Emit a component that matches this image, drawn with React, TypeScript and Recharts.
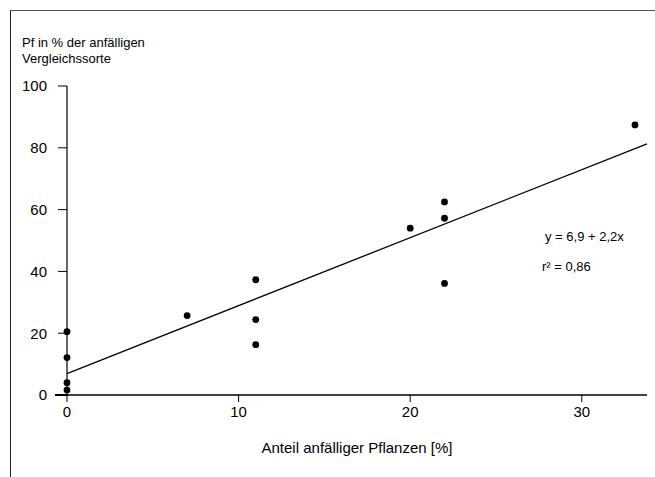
import { ScatterChart, Scatter, XAxis, YAxis } from "recharts";

const points = [
  { x: 0, y: 20.5 },
  { x: 0, y: 12.1 },
  { x: 0, y: 4.0 },
  { x: 0, y: 1.6 },
  { x: 7, y: 25.7 },
  { x: 11, y: 37.3 },
  { x: 11, y: 24.4 },
  { x: 11, y: 16.3 },
  { x: 20, y: 54 },
  { x: 22, y: 62.5 },
  { x: 22, y: 57.2 },
  { x: 22, y: 36.1 },
  { x: 33.1, y: 87.4 },
];

// Regressionsgerade, Endpunkte
const fitLine = [
  { x: 0, y: 6.9 },
  { x: 33.8, y: 81.3 },
];

const xTicks = [0, 10, 20, 30];
const yTicks = [0, 20, 40, 60, 80, 100];

const font = "'Liberation Sans', Arial, sans-serif";
const tickStyle = { fill: "#000", fontSize: 15, fontFamily: font };

const Dot = (props: any) => (
  <circle cx={props.cx} cy={props.cy} r={3.4} fill="#000" />
);

export default function App() {
  return (
    <div
      style={{
        position: "absolute",
        left: 0,
        top: 0,
        width: 655,
        height: 477,
        background: "#fff",
        fontFamily: font,
        overflow: "hidden",
      }}
    >
      <div
        style={{
          position: "absolute",
          left: 10,
          top: 10,
          width: 660,
          height: 480,
          borderLeft: "1.5px solid #222",
          borderTop: "1.5px solid #555",
        }}
      />
      <div
        style={{
          position: "absolute",
          left: 22,
          top: 35,
          fontSize: 13,
          lineHeight: "16px",
          color: "#000",
        }}
      >
        Pf in % der anfälligen
        <br />
        Vergleichssorte
      </div>
      <div
        style={{
          position: "absolute",
          left: 545,
          top: 229,
          fontSize: 13,
          lineHeight: "16px",
          color: "#000",
        }}
      >
        y = 6,9 + 2,2x
      </div>
      <div
        style={{
          position: "absolute",
          left: 542,
          top: 259,
          fontSize: 13,
          lineHeight: "16px",
          color: "#000",
        }}
      >
        r² = 0,86
      </div>
      <ScatterChart
        width={655}
        height={477}
        margin={{ top: 86, right: 8, left: 7, bottom: 22 }}
        style={{ position: "absolute", left: 0, top: 0 }}
      >
        <XAxis
          type="number"
          dataKey="x"
          domain={[0, 33.8]}
          ticks={xTicks}
          height={60}
          stroke="#000"
          tickSize={7}
          tickMargin={4}
          tick={tickStyle}
          axisLine={{ stroke: "#000", strokeWidth: 1.5 }}
          label={{
            value: "Anteil anfälliger Pflanzen [%]",
            position: "insideBottom",
            offset: 2,
            style: { fill: "#000", fontSize: 15, fontFamily: font },
          }}
        />
        <YAxis
          type="number"
          dataKey="y"
          domain={[0, 100]}
          ticks={yTicks}
          width={60}
          stroke="#000"
          tickSize={9}
          tickMargin={11}
          tick={tickStyle}
          axisLine={{ stroke: "#000", strokeWidth: 1.2 }}
        />
        <Scatter
          data={fitLine}
          line={{ stroke: "#000", strokeWidth: 1.3 }}
          shape={() => <g />}
          isAnimationActive={false}
        />
        <Scatter data={points} shape={Dot} isAnimationActive={false} />
      </ScatterChart>
      {/* Verlängerung der x-Achse links über die y-Achse hinaus */}
      <div
        style={{
          position: "absolute",
          left: 55,
          top: 394.2,
          width: 13,
          height: 1.5,
          background: "#000",
        }}
      />
    </div>
  );
}
